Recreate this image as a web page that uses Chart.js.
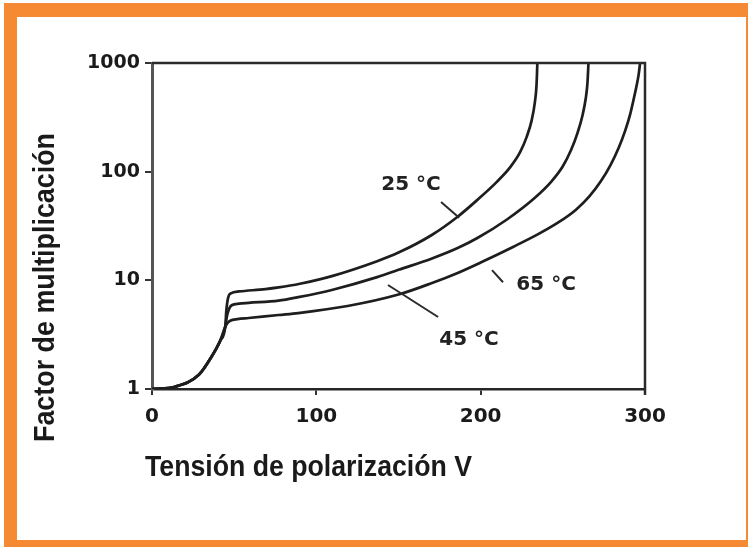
<!DOCTYPE html>
<html>
<head>
<meta charset="utf-8">
<script src="https://cdn.jsdelivr.net/npm/chart.js@4.4.1/dist/chart.umd.min.js"></script>
<style>
  html, body { margin: 0; padding: 0; background: #fff; }
  #frame {
    position: absolute; left: 4px; top: 3px; width: 729px; height: 523px;
    border-style: solid; border-color: #f68a33; border-width: 14px 2px 7px 13px;
  }
  #wrap { position: absolute; left: 0; top: 0; width: 748px; height: 547px; }
</style>
</head>
<body>
<div id="frame"></div>
<div id="wrap"><canvas id="gain_chart"></canvas></div>
<script>
// tensión (V) y factor de multiplicación para cada temperatura
const volt25 = [0, 14, 28.5, 36.4, 41.6, 44.6, 45.2, 46.3, 48, 53, 69, 77, 90, 110, 137, 150, 170, 186, 198, 210, 218, 224, 228, 231, 233, 234, 234.5];
const mult25 = [1, 1.05, 1.35, 2.0, 2.8, 3.75, 5.2, 6.9, 7.6, 7.9, 8.3, 8.6, 9.3, 11, 15, 18, 26, 38.5, 55, 81, 110, 151, 209, 295, 437, 630, 1000];

const volt45 = [0, 14, 28.5, 36.4, 41.6, 44.6, 45.5, 47, 48.5, 53, 58.8, 77, 89, 110, 137, 150, 170, 186, 198, 216, 233, 243, 250, 255, 259, 262, 264, 265, 265.6];
const mult45 = [1, 1.05, 1.35, 2.0, 2.8, 3.75, 4.6, 5.5, 5.9, 6.1, 6.2, 6.5, 7.0, 8.2, 10.7, 12.5, 15.8, 19.8, 24.5, 36.3, 57.5, 81, 112, 158, 229, 331, 479, 660, 1000];

const volt65 = [0, 14, 28.5, 36.4, 41.6, 44.6, 46, 47.6, 52, 58.8, 77, 89, 119, 150, 170, 186, 200, 220, 235, 247, 258, 266, 273, 279, 284, 288, 291, 293, 295, 296.2, 297];
const mult65 = [1, 1.05, 1.35, 2.0, 2.8, 3.75, 4.05, 4.25, 4.4, 4.5, 4.8, 5.0, 5.8, 7.4, 9.4, 11.7, 14.6, 20.4, 26.6, 33.9, 44.7, 58.9, 81, 115, 166, 240, 339, 457, 631, 794, 1000];

const xTicks = [0, 100, 200, 300];
const yTicks = [1, 10, 100, 1000];

// rótulos de las curvas (en unidades de datos)
const noteText = ['25 \u00B0C', '65 \u00B0C', '45 \u00B0C'];
const noteX = [157.6, 239.8, 192.9];
const noteY = [75.5, 9.06, 2.82];
const leadX0 = [175.9, 206.9, 143.6];
const leadY0 = [52.6, 12.4, 9.06];
const leadX1 = [186.9, 213.6, 174.1];
const leadY1 = [37.6, 9.6, 4.6];

const xTitle = 'Tensi\u00F3n de polarizaci\u00F3n V';
const yTitle = 'Factor de multiplicaci\u00F3n';

const toPoints = (xs, ys) => xs.map((x, i) => ({ x: x, y: ys[i] }));

const inkColor = '#1e1e1e';
const titleFamily = '"Liberation Sans Narrow", "Liberation Sans", Arial, sans-serif';

const notesPlugin = {
  id: 'notes',
  afterDraw(chart) {
    const ctx = chart.ctx;
    const area = chart.chartArea;
    const sx = chart.scales.x;
    const sy = chart.scales.y;

    ctx.save();
    // marco superior y derecho
    ctx.strokeStyle = '#2a2a2a';
    ctx.lineWidth = 2.5;
    ctx.beginPath();
    ctx.moveTo(area.left, area.top);
    ctx.lineTo(area.right, area.top);
    ctx.lineTo(area.right, area.bottom + 6);
    ctx.stroke();

    // rótulos y flechas
    ctx.fillStyle = '#222';
    ctx.font = 'bold 20px "DejaVu Sans"';
    ctx.textAlign = 'center';
    ctx.textBaseline = 'middle';
    ctx.lineWidth = 2;
    for (let i = 0; i < noteText.length; i++) {
      ctx.fillText(noteText[i], sx.getPixelForValue(noteX[i]), sy.getPixelForValue(noteY[i]));
      ctx.beginPath();
      ctx.moveTo(sx.getPixelForValue(leadX0[i]), sy.getPixelForValue(leadY0[i]));
      ctx.lineTo(sx.getPixelForValue(leadX1[i]), sy.getPixelForValue(leadY1[i]));
      ctx.stroke();
    }

    // títulos de ejes (letra condensada)
    ctx.fillStyle = '#1a1a1a';
    ctx.textAlign = 'left';
    ctx.textBaseline = 'alphabetic';

    ctx.font = 'bold 29px ' + titleFamily;
    let k = 327 / ctx.measureText(xTitle).width;
    ctx.save();
    ctx.translate(145, 476);
    ctx.scale(k, 1);
    ctx.fillText(xTitle, 0, 0);
    ctx.restore();

    ctx.font = 'bold 29px ' + titleFamily;
    k = 309 / ctx.measureText(yTitle).width;
    ctx.save();
    ctx.translate(54, 442);
    ctx.rotate(-Math.PI / 2);
    ctx.scale(k, 1);
    ctx.fillText(yTitle, 0, 0);
    ctx.restore();

    ctx.restore();
  }
};

const lineStyle = {
  borderColor: inkColor,
  borderWidth: 2.7,
  pointRadius: 0,
  fill: false,
  cubicInterpolationMode: 'monotone'
};

new Chart(document.getElementById('gain_chart'), {
  type: 'line',
  data: {
    datasets: [
      Object.assign({ label: '25 \u00B0C', data: toPoints(volt25, mult25) }, lineStyle),
      Object.assign({ label: '45 \u00B0C', data: toPoints(volt45, mult45) }, lineStyle),
      Object.assign({ label: '65 \u00B0C', data: toPoints(volt65, mult65) }, lineStyle)
    ]
  },
  options: {
    responsive: true,
    maintainAspectRatio: false,
    animation: false,
    layout: { padding: { left: 0, top: 63, right: 103, bottom: 0 } },
    plugins: {
      legend: { display: false },
      tooltip: { enabled: false }
    },
    scales: {
      x: {
        type: 'linear',
        min: 0,
        max: 300,
        afterBuildTicks: (s) => { s.ticks = xTicks.map(v => ({ value: v })); },
        afterFit: (s) => { s.height = 158; },
        grid: { drawOnChartArea: false, tickLength: 6, color: '#333', lineWidth: 2 },
        border: { color: '#262626', width: 2.5 },
        ticks: {
          padding: 10,
          color: '#1a1a1a',
          maxRotation: 0,
          font: { family: 'DejaVu Sans', weight: 'bold', size: 20 }
        }
      },
      y: {
        type: 'logarithmic',
        min: 1,
        max: 1000,
        afterBuildTicks: (s) => { s.ticks = yTicks.map(v => ({ value: v })); },
        afterFit: (s) => { s.width = 152; },
        grid: { drawOnChartArea: false, tickLength: 7, color: '#333', lineWidth: 2 },
        border: { color: '#555', width: 3 },
        ticks: {
          padding: 5,
          color: '#1a1a1a',
          font: { family: 'DejaVu Sans', weight: 'bold', size: 19 },
          callback: (v) => String(v)
        }
      }
    }
  },
  plugins: [notesPlugin]
});
</script>
</body>
</html>
